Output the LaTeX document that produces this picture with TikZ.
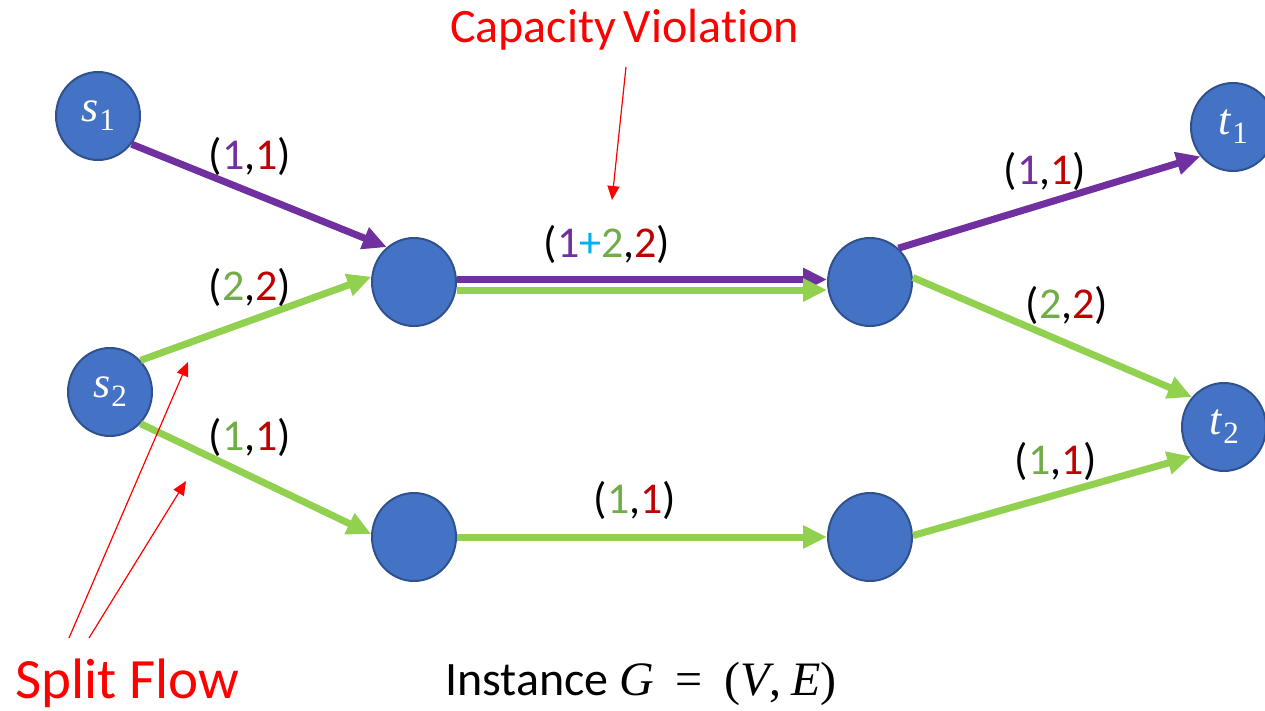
\documentclass[tikz,border=0pt]{standalone}
\usepackage{fontspec}
\setmainfont{Carlito}[Ligatures=NoCommon]
\newfontfamily\mf{Liberation Serif}
\usetikzlibrary{arrows.meta,shapes.geometric}
\definecolor{nodefill}{HTML}{4472C4}
\definecolor{nodeline}{HTML}{2F528F}
\definecolor{fpurple}{HTML}{7030A0}
\definecolor{fgreen}{HTML}{92D050}
\definecolor{tgreen}{HTML}{70AD47}
\definecolor{tred}{HTML}{C00000}
\definecolor{tcyan}{HTML}{00B0F0}
\definecolor{ared}{HTML}{FF0000}
\tikzset{
  vtx/.style={ellipse, draw=nodeline, fill=nodefill, line width=2pt, minimum width=84pt, minimum height=88pt, inner sep=0pt, text=white, font=\mf\fontsize{44}{48}\selectfont},
  flowp/.style={draw=fpurple, line width=7pt, -{Triangle[length=24pt,width=22pt]}},
  flowg/.style={draw=fgreen, line width=7pt, -{Triangle[length=24pt,width=22pt]}},
  lbl/.style={anchor=base, inner sep=0pt, font=\fontsize{44}{50}\selectfont},
  note/.style={ared, line width=1.2pt, -{Triangle[length=14pt,width=12pt]}},
}
\newcommand{\cp}[1]{\textcolor{fpurple}{#1}}
\newcommand{\cg}[1]{\textcolor{tgreen}{#1}}
\newcommand{\cred}[1]{\textcolor{tred}{#1}}
\newcommand{\vlab}[2]{\textit{#1}\kern1pt\raisebox{-0.2em}{\fontsize{31}{34}\selectfont #2}}
\begin{document}
\begin{tikzpicture}[x=1pt,y=-1pt]
\useasboundingbox (0,0) rectangle (1265,711);
% nodes
\node[vtx] (s1) at (98,116) {\vlab{s}{1}};
\node[vtx] (s2) at (110,392) {\vlab{s}{2}};
\node[vtx] (A) at (414,282) {};
\node[vtx] (B) at (870,282) {};
\node[vtx] (C) at (414,537) {};
\node[vtx] (D) at (870,537) {};
\node[vtx] (t1) at (1233,127) {\vlab{t}{1}};
\node[vtx] (t2) at (1224,427) {\vlab{t}{2}};
% flow edges
\draw[flowp] (s1.-40) -- (A.128);
\draw[flowg] (s2.46) -- (A.173);
\draw[flowp] ([yshift=2.5pt]A.east) -- ([yshift=2.5pt]B.west);
\draw[flowg] ([yshift=-8pt]A.east) -- ([yshift=-8pt]B.west);
\draw[flowp] (B.50) -- (t1.222);
\draw[flowg] (B.6) -- (t2.137);
\draw[flowg] (s2.-46) -- (C.176);
\draw[flowg] (C.east) -- (D.west);
\draw[flowg] (D.2) -- (t2.222);
% edge labels
\node[lbl] (l1) at (250,170) {(\cp{1},\cred{1})};
\node[lbl] (l2) at (250,300) {(\cg{2},\cred{2})};
\node[lbl] (l3) at (607,258) {(\cp{1}\textcolor{tcyan}{+}\cg{2},\cred{2})};
\node[lbl] (l4) at (1045,185) {(\cp{1},\cred{1})};
\node[lbl] (l5) at (1067,318) {(\cg{2},\cred{2})};
\node[lbl] (l6) at (250,450) {(\cg{1},\cred{1})};
\node[lbl] (l7) at (635,513) {(\cg{1},\cred{1})};
\node[lbl] (l8) at (1056,474) {(\cg{1},\cred{1})};
% annotations
\node[anchor=base west, inner sep=0pt, text=ared, font=\fontsize{48}{52}\selectfont] (cv) at (450,43) {Capacity\kern-3pt\ Violation};
\coordinate (cvs) at (626,67);
\coordinate (cvt) at (612,200);
\draw[note] (cvs) -- (cvt);
\node[anchor=base west, inner sep=0pt, text=ared, font=\fontsize{57}{62}\selectfont] (sf) at (15,698) {Split Flow};
\coordinate (sfa) at (69,638);
\coordinate (sfat) at (188,362);
\coordinate (sfb) at (89,638);
\coordinate (sfbt) at (186,481);
\draw[note] (sfa) -- (sfat);
\draw[note] (sfb) -- (sfbt);
\node[anchor=base west, inner sep=0pt, font=\fontsize{48}{54}\selectfont] (inst) at (445,695) {Instance {\mf\itshape G}\hspace{0.45em}{\mf =}\hspace{0.45em}{\mf (}{\mf\itshape V}{\mf ,}\hspace{0.2em}{\mf\itshape E}{\mf )}};
\end{tikzpicture}
\end{document}
